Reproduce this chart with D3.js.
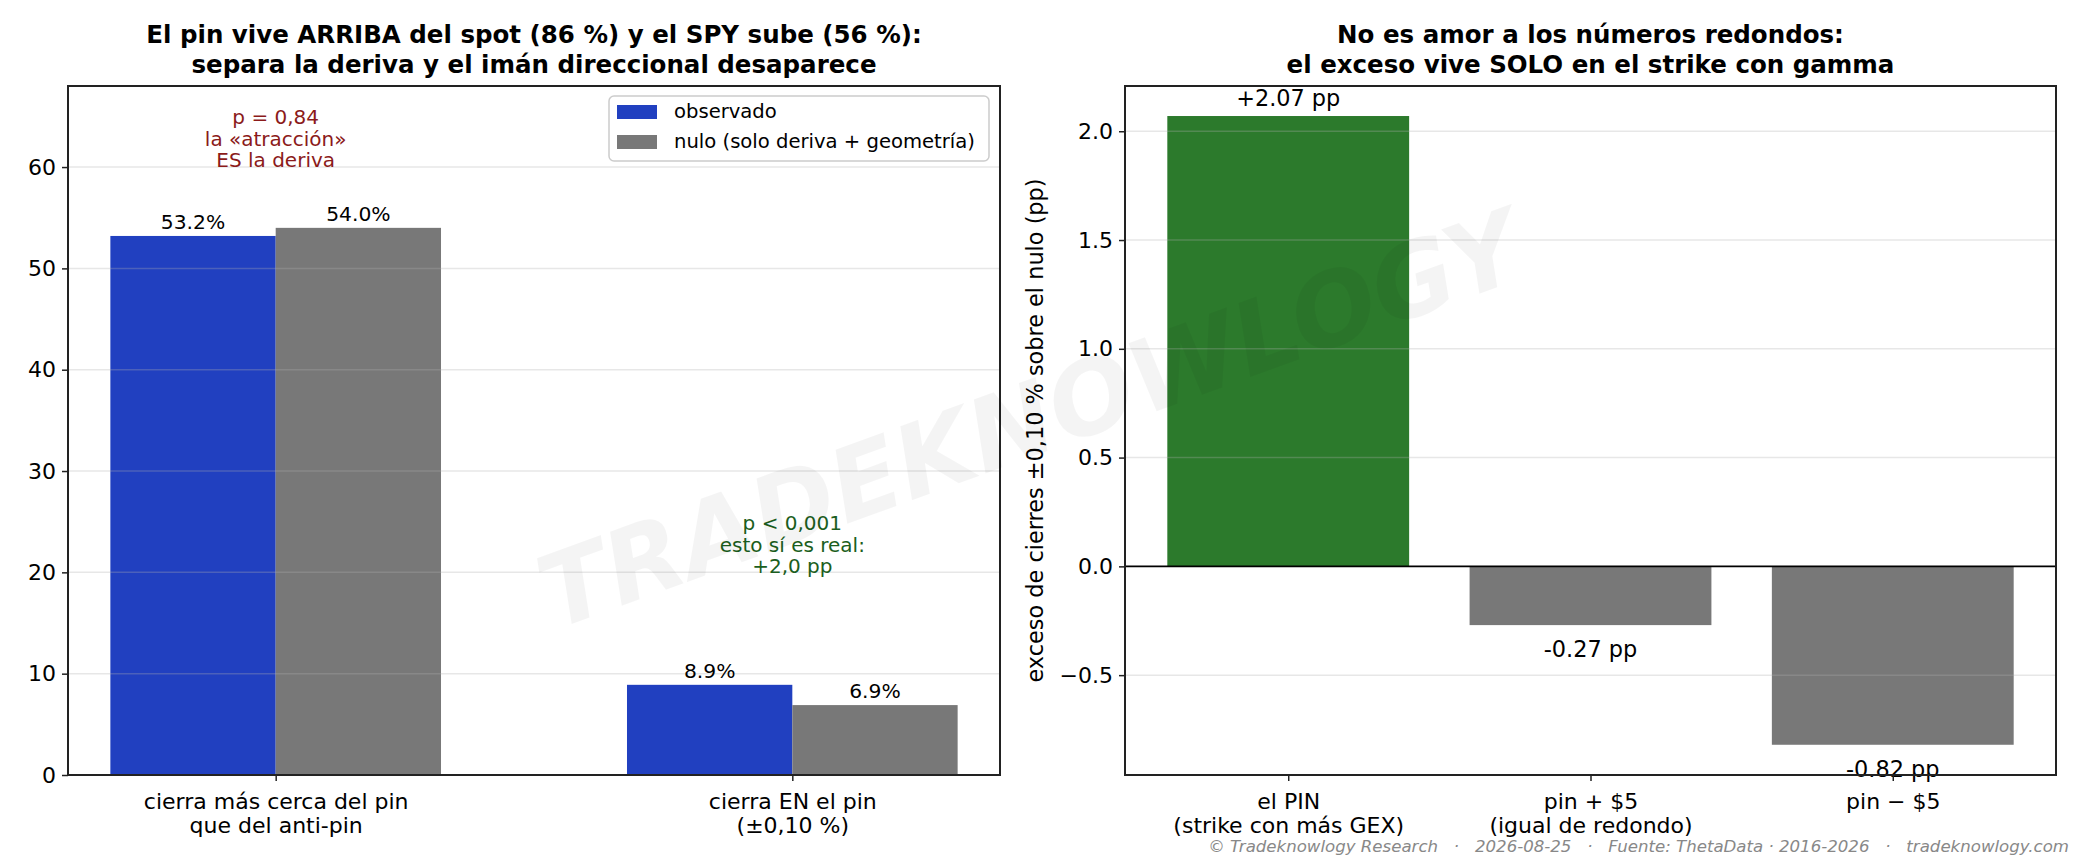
<!DOCTYPE html>
<html>
<head>
<meta charset="utf-8">
<script src="https://cdn.jsdelivr.net/npm/d3@7"></script>
<style>
  body { margin: 0; background: #fff; }
  svg { display: block; font-family: "DejaVu Sans", sans-serif; }
</style>
</head>
<body>
<svg id="chart" width="2080" height="864"></svg>
<script>
// ---- data ----
const leftCats = ["cierra más cerca del pin\nque del anti-pin", "cierra EN el pin\n(±0,10 %)"];
const observado = [53.2, 8.9];
const nulo = [54.0, 6.9];
const leftTicks = [0, 10, 20, 30, 40, 50, 60];
const seriesNames = ["observado", "nulo (solo deriva + geometría)"];

const rightCats = ["el PIN\n(strike con más GEX)", "pin + $5\n(igual de redondo)", "pin − $5"];
const exceso = [2.07, -0.27, -0.82];
const rightTicks = [-0.5, 0, 0.5, 1.0, 1.5, 2.0];

const BLUE = "#2140c0", GRAY = "#787878", GREEN = "#2c7a2c";

const svg = d3.select("#chart");
svg.append("rect").attr("width", 2080).attr("height", 864).attr("fill", "#fff");

const plotTop = 86, plotBottom = 775;

function multiLine(sel, lineH) {
  sel.each(function () {
    const t = d3.select(this);
    const lines = t.text().split("\n");
    t.text(null);
    lines.forEach((l, i) => {
      t.append("tspan").attr("x", 0).attr("dy", i === 0 ? "0.9em" : lineH).text(l);
    });
  });
}

function title(cx, lines) {
  const t = svg.append("text")
    .attr("text-anchor", "middle")
    .attr("font-size", 24.5)
    .attr("font-weight", "bold");
  lines.forEach((l, i) => {
    t.append("tspan").attr("x", cx).attr("y", 43 + i * 29.5).text(l);
  });
}

/// ////////////////////////////////////////////
// Left panel
/// ////////////////////////////////////////////
const L = { left: 68, right: 1000 };
const xL = d3.scalePoint().domain(leftCats).range([L.left, L.right]).padding(0.402);
const yL = d3.scaleLinear().domain([0, 68]).range([plotBottom, plotTop]);
const bwL = xL.step() * 0.32;

const gL = svg.append("g");

gL.selectAll(".obs")
  .data(observado)
  .enter().append("rect")
  .attr("x", (d, i) => xL(leftCats[i]) - bwL)
  .attr("y", d => yL(d))
  .attr("width", bwL)
  .attr("height", d => yL(0) - yL(d))
  .attr("fill", BLUE);

gL.selectAll(".nul")
  .data(nulo)
  .enter().append("rect")
  .attr("x", (d, i) => xL(leftCats[i]))
  .attr("y", d => yL(d))
  .attr("width", bwL)
  .attr("height", d => yL(0) - yL(d))
  .attr("fill", GRAY);

// grid on top of bars, faint like matplotlib
gL.selectAll(".grid")
  .data(leftTicks.slice(1))
  .enter().append("line")
  .attr("x1", L.left).attr("x2", L.right)
  .attr("y1", d => yL(d)).attr("y2", d => yL(d))
  .attr("stroke", "#b0b0b0").attr("stroke-opacity", 0.3).attr("stroke-width", 1.5);

// value labels
const valFmt = d3.format(".1f");
gL.selectAll(".lblObs")
  .data(observado)
  .enter().append("text")
  .attr("x", (d, i) => xL(leftCats[i]) - bwL / 2)
  .attr("y", d => yL(d) - 7)
  .attr("text-anchor", "middle")
  .attr("font-size", 20.3)
  .text(d => valFmt(d) + "%");
gL.selectAll(".lblNul")
  .data(nulo)
  .enter().append("text")
  .attr("x", (d, i) => xL(leftCats[i]) + bwL / 2)
  .attr("y", d => yL(d) - 7)
  .attr("text-anchor", "middle")
  .attr("font-size", 20.3)
  .text(d => valFmt(d) + "%");

// axes
const axYL = gL.append("g")
  .attr("transform", `translate(${L.left},0)`)
  .call(d3.axisLeft(yL).tickValues(leftTicks).tickFormat(d3.format("d")).tickSize(6).tickPadding(6));
const axXL = gL.append("g")
  .attr("transform", `translate(0,${plotBottom})`)
  .call(d3.axisBottom(xL).tickSize(6).tickPadding(8));
[axYL, axXL].forEach(a => {
  a.select(".domain").remove();
  a.selectAll("line").attr("stroke", "#222").attr("stroke-width", 1.5);
  a.selectAll("text").attr("font-size", 22).attr("fill", "#000").attr("font-family", "DejaVu Sans");
});
axXL.selectAll("text").attr("dy", null).call(multiLine, 24);

gL.append("rect")
  .attr("x", L.left).attr("y", plotTop)
  .attr("width", L.right - L.left).attr("height", plotBottom - plotTop)
  .attr("fill", "none").attr("stroke", "#222").attr("stroke-width", 2);

// annotations
const annRed = gL.append("text").attr("text-anchor", "middle").attr("font-size", 20).attr("fill", "#8b1a1a");
["p = 0,84", "la «atracción»", "ES la deriva"].forEach((l, i) => {
  annRed.append("tspan").attr("x", xL(leftCats[0])).attr("y", 124 + i * 21.5).text(l);
});
const annGreen = gL.append("text").attr("text-anchor", "middle").attr("font-size", 20).attr("fill", "#1b5e20");
["p < 0,001", "esto sí es real:", "+2,0 pp"].forEach((l, i) => {
  annGreen.append("tspan").attr("x", xL(leftCats[1])).attr("y", 530 + i * 21.5).text(l);
});

// legend
const leg = gL.append("g").attr("transform", "translate(609,96)");
leg.append("rect")
  .attr("width", 380).attr("height", 65).attr("rx", 5)
  .attr("fill", "#fff").attr("fill-opacity", 0.8)
  .attr("stroke", "#cccccc").attr("stroke-width", 1.5);
seriesNames.forEach((name, i) => {
  leg.append("rect")
    .attr("x", 8).attr("y", 9 + i * 30)
    .attr("width", 40).attr("height", 14)
    .attr("fill", i === 0 ? BLUE : GRAY);
  leg.append("text")
    .attr("x", 65).attr("y", 22 + i * 30)
    .attr("font-size", 19.6)
    .text(name);
});

title((L.left + L.right) / 2, [
  "El pin vive ARRIBA del spot (86 %) y el SPY sube (56 %):",
  "separa la deriva y el imán direccional desaparece"
]);

/// ////////////////////////////////////////////
// Right panel
/// ////////////////////////////////////////////
const R = { left: 1125, right: 2056 };
const xR = d3.scalePoint().domain(rightCats).range([R.left, R.right]).padding(0.54);
const yR = d3.scaleLinear().domain([-0.959, 2.208]).range([plotBottom, plotTop]);
const bwR = xR.step() * 0.8;

const gR = svg.append("g");

gR.selectAll(".bar")
  .data(exceso)
  .enter().append("rect")
  .attr("x", (d, i) => xR(rightCats[i]) - bwR / 2)
  .attr("y", d => yR(Math.max(0, d)))
  .attr("width", bwR)
  .attr("height", d => Math.abs(yR(d) - yR(0)))
  .attr("fill", (d, i) => i === 0 ? GREEN : GRAY);

gR.selectAll(".grid")
  .data(rightTicks.filter(d => d !== 0))
  .enter().append("line")
  .attr("x1", R.left).attr("x2", R.right)
  .attr("y1", d => yR(d)).attr("y2", d => yR(d))
  .attr("stroke", "#b0b0b0").attr("stroke-opacity", 0.3).attr("stroke-width", 1.5);

gR.append("line")
  .attr("x1", R.left).attr("x2", R.right)
  .attr("y1", yR(0)).attr("y2", yR(0))
  .attr("stroke", "#000").attr("stroke-width", 1.8);

gR.selectAll(".lbl")
  .data(exceso)
  .enter().append("text")
  .attr("x", (d, i) => xR(rightCats[i]))
  .attr("y", d => d >= 0 ? yR(d) - 10 : yR(d) + 32)
  .attr("text-anchor", "middle")
  .attr("font-size", 22.4)
  .text(d => (d > 0 ? "+" : "") + d.toFixed(2) + " pp");

const axYR = gR.append("g")
  .attr("transform", `translate(${R.left},0)`)
  .call(d3.axisLeft(yR).tickValues(rightTicks).tickFormat(d3.format(".1f")).tickSize(6).tickPadding(6));
const axXR = gR.append("g")
  .attr("transform", `translate(0,${plotBottom})`)
  .call(d3.axisBottom(xR).tickSize(6).tickPadding(8));
[axYR, axXR].forEach(a => {
  a.select(".domain").remove();
  a.selectAll("line").attr("stroke", "#222").attr("stroke-width", 1.5);
  a.selectAll("text").attr("font-size", 22).attr("fill", "#000").attr("font-family", "DejaVu Sans");
});
axXR.selectAll("text").attr("dy", null).call(multiLine, 24);

gR.append("rect")
  .attr("x", R.left).attr("y", plotTop)
  .attr("width", R.right - R.left).attr("height", plotBottom - plotTop)
  .attr("fill", "none").attr("stroke", "#222").attr("stroke-width", 2);

gR.append("text")
  .attr("transform", `translate(1043,${(plotTop + plotBottom) / 2}) rotate(-90)`)
  .attr("text-anchor", "middle")
  .attr("font-size", 22.4)
  .text("exceso de cierres ±0,10 % sobre el nulo (pp)");

title((R.left + R.right) / 2, [
  "No es amor a los números redondos:",
  "el exceso vive SOLO en el strike con gamma"
]);

// footer
svg.append("text")
  .attr("x", 2069).attr("y", 852)
  .attr("text-anchor", "end")
  .attr("font-size", 16.6)
  .attr("font-style", "italic")
  .attr("fill", "#888")
  .style("white-space", "pre")
  .text("© Tradeknowlogy Research   ·   2026-08-25   ·   Fuente: ThetaData · 2016-2026   ·   tradeknowlogy.com");

// watermark, faint, over everything
svg.append("text")
  .attr("transform", "translate(1030,420) rotate(-20)")
  .attr("text-anchor", "middle")
  .attr("dominant-baseline", "central")
  .attr("font-size", 101)
  .attr("font-weight", "bold")
  .attr("font-style", "italic")
  .attr("fill", "#000")
  .attr("fill-opacity", 0.045)
  .attr("pointer-events", "none")
  .text("TRADEKNOWLOGY");
</script>
</body>
</html>
